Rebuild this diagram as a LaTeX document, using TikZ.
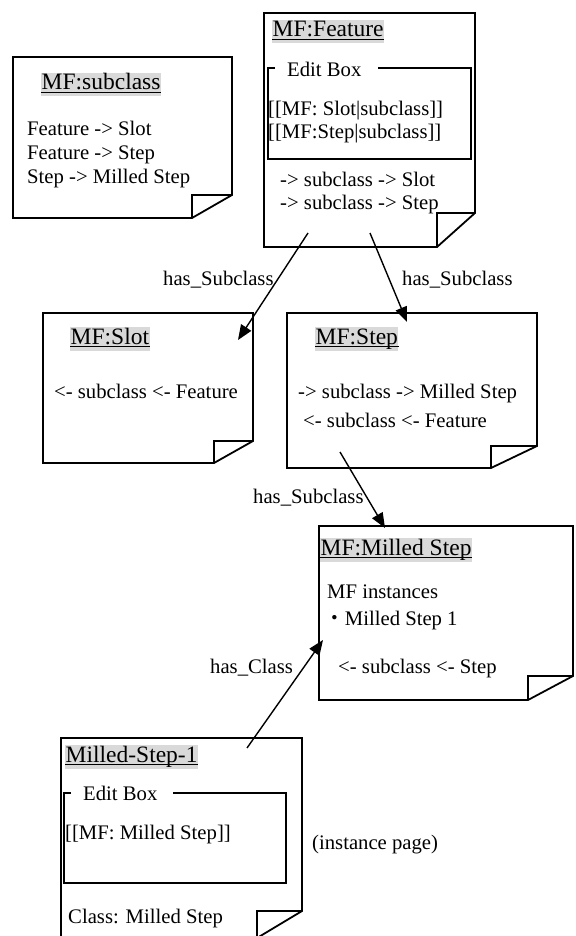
\documentclass[tikz,border=0pt]{standalone}
\usepackage{fontspec}
\setmainfont{Liberation Serif}
\newfontfamily\cjk{Noto Sans CJK JP}
\usetikzlibrary{arrows.meta}
\definecolor{hdgray}{HTML}{D9D9D9}
\newcommand\notepage[6]{%
  \draw[page] (#1,#2) -- (#3,#2) -- (#3,#6) -- (#5,#4) -- (#1,#4) -- cycle;
  \draw[page] (#5,#4) -- (#5,#6) -- (#3,#6);}
\newcommand\hdul[1]{\draw[line width=1.3pt] ([yshift=-2.5pt]#1.base west) -- ([yshift=-2.5pt]#1.base east);}
\begin{document}
\begin{tikzpicture}[x=1pt,y=-1pt,
  page/.style={draw=black,line width=1.8pt,line join=miter},
  hd/.style={fill=hdgray,inner xsep=0.5pt,inner ysep=0pt,text height=17pt,text depth=6.5pt,anchor=base west,font=\fontsize{23.5}{26}\selectfont},
  tx/.style={inner sep=0pt,anchor=base west,font=\fontsize{20.7}{24}\selectfont},
  lnk/.style={line width=1.4pt,-{Triangle[length=15pt,width=12pt]}},
  ebox/.style={line width=1.8pt}]
\clip (0,0) rectangle (575,936);
\fill[white] (0,0) rectangle (575,936);

% pages
\notepage{13}{57}{232}{218}{192}{195}
\notepage{264}{13}{475}{247}{437}{213}
\notepage{43}{313}{253}{463}{214}{441}
\notepage{287}{313}{537}{468}{491}{446}
\notepage{319}{526}{573}{700}{528}{676}
\notepage{61}{738}{302}{938}{257}{911}

% MF:subclass
\node[hd] (hsub) at (41,90) {MF:subclass}; \hdul{hsub}
\node[tx] (s1) at (27,136) {Feature -> Slot};
\node[tx] (s2) at (27,159.5) {Feature -> Step};
\node[tx] (s3) at (27,183) {Step -> Milled Step};

% MF:Feature
\node[hd] (hfeat) at (272,37) {MF:Feature}; \hdul{hfeat}
\draw[ebox] (275,68) -- (268,68) -- (268,159) -- (471,159) -- (471,68) -- (378,68);
\node[tx] (fe) at (287,77) {Edit Box};
\node[tx] (f1) at (268,116) {[[MF: Slot|subclass]]};
\node[tx] (f2) at (268,139) {[[MF:Step|subclass]]};
\node[tx] (f3) at (280,186) {-> subclass -> Slot};
\node[tx] (f4) at (280,209) {-> subclass -> Step};

% MF:Slot
\node[hd] (hslot) at (70,344) {MF:Slot}; \hdul{hslot}
\node[tx] (sl1) at (54,398) {<- subclass <- Feature};

% MF:Step
\node[hd] (hstep) at (315,344) {MF:Step}; \hdul{hstep}
\node[tx] (st1) at (298,398) {-> subclass -> Milled Step};
\node[tx] (st2) at (303,427) {<- subclass <- Feature};

% MF:Milled Step
\node[hd] (hms) at (320,555) {MF:Milled Step}; \hdul{hms}
\node[tx] (m1) at (327,598) {MF instances};
\node[tx] (m2) at (324,625) {{\cjk ・}Milled Step 1};
\node[tx] (m3) at (338,673) {<- subclass <- Step};

% Milled-Step-1
\node[hd] (hinst) at (65,762) {Milled-Step-1}; \hdul{hinst}
\draw[ebox] (71,793) -- (64,793) -- (64,883) -- (286,883) -- (286,793) -- (173,793);
\node[tx] (ie) at (83,800) {Edit Box};
\node[tx] (i1) at (65,839) {[[MF: Milled Step]]};
\node[tx] (i2) at (68,923) {Class: Milled Step};
\node[tx] (ip) at (312,849) {(instance page)};

% connectors
\coordinate (a1s) at (308,233); \coordinate (a1e) at (238,340);
\coordinate (a2s) at (370,233); \coordinate (a2e) at (407,322);
\coordinate (a3s) at (340,452); \coordinate (a3e) at (385,528);
\coordinate (a4s) at (247,748); \coordinate (a4e) at (323,640);
\draw[lnk] (a1s) -- (a1e);
\draw[lnk] (a2s) -- (a2e);
\draw[lnk] (a3s) -- (a3e);
\draw[lnk] (a4s) -- (a4e);

\node[tx] (l1) at (163,285) {has\_Subclass};
\node[tx] (l2) at (402,285) {has\_Subclass};
\node[tx] (l3) at (253,503) {has\_Subclass};
\node[tx] (l4) at (210,673) {has\_Class};
\end{tikzpicture}
\end{document}
